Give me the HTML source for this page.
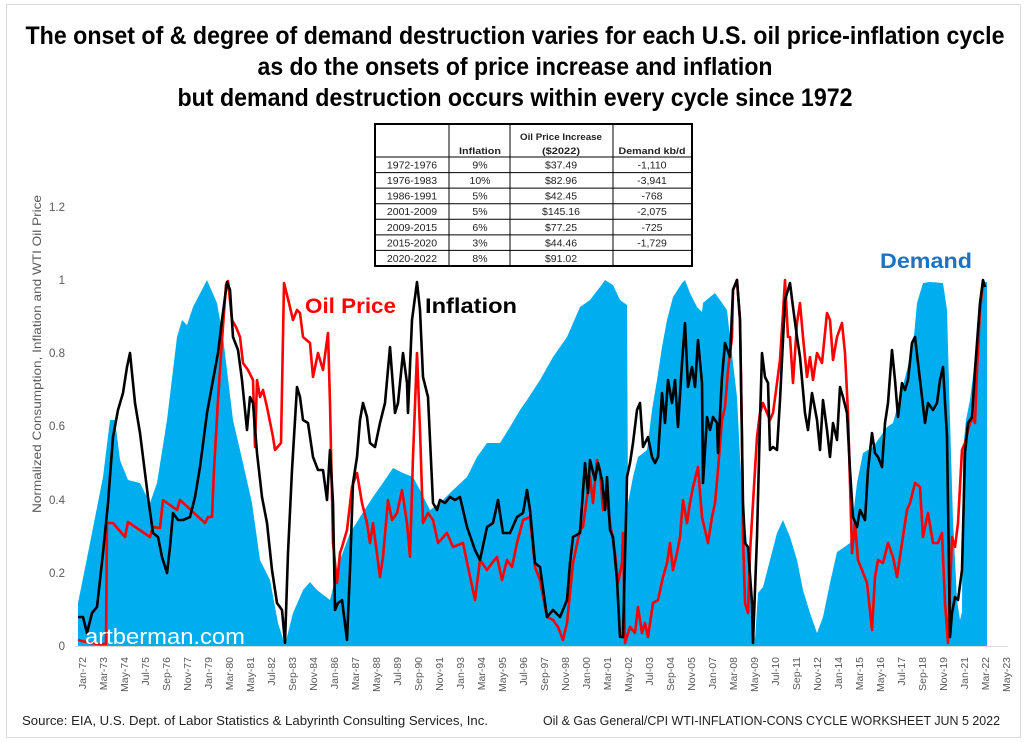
<!DOCTYPE html>
<html>
<head>
<meta charset="utf-8">
<style>
  html,body{margin:0;padding:0;background:#fff;}
  svg{display:block;}
  text{font-family:"Liberation Sans", Arial, sans-serif;}
</style>
</head>
<body>
<svg width="1024" height="742" viewBox="0 0 1024 742" xmlns="http://www.w3.org/2000/svg">
  <rect x="0" y="0" width="1024" height="742" fill="#fff"/>
  <rect x="6.5" y="4.5" width="1014" height="733" fill="none" stroke="#d9d9d9" stroke-width="1"/>

  <!-- Title -->
  <g font-weight="bold" font-size="25" fill="#000" text-anchor="middle">
    <text x="515" y="44" textLength="979" lengthAdjust="spacingAndGlyphs">The onset of &amp; degree of demand destruction varies for each U.S. oil price-inflation cycle</text>
    <text x="515" y="75" textLength="515" lengthAdjust="spacingAndGlyphs">as do the onsets of price increase and inflation</text>
    <text x="515" y="106" textLength="675" lengthAdjust="spacingAndGlyphs">but demand destruction occurs within every cycle since 1972</text>
  </g>

  <!-- Table -->
  <g>
    <rect x="375" y="124" width="317" height="142" fill="#fff" stroke="#000" stroke-width="2"/>
    <g stroke="#000" stroke-width="1">
      <line x1="449" y1="124" x2="449" y2="266"/>
      <line x1="510" y1="124" x2="510" y2="266"/>
      <line x1="613" y1="124" x2="613" y2="266"/>
      <line x1="375" y1="157" x2="692" y2="157"/>
      <line x1="375" y1="172.6" x2="692" y2="172.6"/>
      <line x1="375" y1="188.1" x2="692" y2="188.1"/>
      <line x1="375" y1="203.7" x2="692" y2="203.7"/>
      <line x1="375" y1="219.3" x2="692" y2="219.3"/>
      <line x1="375" y1="234.9" x2="692" y2="234.9"/>
      <line x1="375" y1="250.4" x2="692" y2="250.4"/>
    </g>
    <g font-size="9.5" font-weight="bold" fill="#222" text-anchor="middle">
      <text x="480" y="154" textLength="42" lengthAdjust="spacingAndGlyphs">Inflation</text>
      <text x="561" y="140" textLength="82" lengthAdjust="spacingAndGlyphs">Oil Price Increase</text>
      <text x="561" y="154" textLength="38" lengthAdjust="spacingAndGlyphs">($2022)</text>
      <text x="652" y="154" textLength="67" lengthAdjust="spacingAndGlyphs">Demand kb/d</text>
    </g>
    <g font-size="10.5" fill="#222" text-anchor="middle">
      <text x="412" y="168.5">1972-1976</text><text x="480" y="168.5">9%</text><text x="561" y="168.5">$37.49</text><text x="652" y="168.5">-1,110</text>
      <text x="412" y="184.1">1976-1983</text><text x="480" y="184.1">10%</text><text x="561" y="184.1">$82.96</text><text x="652" y="184.1">-3,941</text>
      <text x="412" y="199.6">1986-1991</text><text x="480" y="199.6">5%</text><text x="561" y="199.6">$42.45</text><text x="652" y="199.6">-768</text>
      <text x="412" y="215.2">2001-2009</text><text x="480" y="215.2">5%</text><text x="561" y="215.2">$145.16</text><text x="652" y="215.2">-2,075</text>
      <text x="412" y="230.8">2009-2015</text><text x="480" y="230.8">6%</text><text x="561" y="230.8">$77.25</text><text x="652" y="230.8">-725</text>
      <text x="412" y="246.4">2015-2020</text><text x="480" y="246.4">3%</text><text x="561" y="246.4">$44.46</text><text x="652" y="246.4">-1,729</text>
      <text x="412" y="261.9">2020-2022</text><text x="480" y="261.9">8%</text><text x="561" y="261.9">$91.02</text>
    </g>
  </g>

  <!-- Y axis title -->
  <text transform="translate(41,354) rotate(-90)" text-anchor="middle" font-size="12" fill="#595959" textLength="318" lengthAdjust="spacingAndGlyphs">Normalized Consumption, Inflation and WTI Oil Price</text>

  <!-- Y tick labels -->
  <g font-size="11.5" fill="#595959" text-anchor="end">
    <text x="65" y="211">1.2</text>
    <text x="65" y="284">1</text>
    <text x="65" y="357">0.8</text>
    <text x="65" y="430">0.6</text>
    <text x="65" y="504">0.4</text>
    <text x="65" y="577">0.2</text>
    <text x="65" y="650">0</text>
  </g>

  <!-- Demand area -->
  <polygon fill="#00AEEF" points="78,646 78,603 90,543 103,477 110,420 115,420 120,460 128,480 140,483 150,503 157,483 167,420 177,337 182,320 187,325 193,307 207,280 217,303 223,337 233,420 243,463 252,503 260,560 270,580 278,623 285,645 293,613 303,590 310,582 317,590 330,600 340,560 350,533 360,517 373,497 387,477 393,468 403,473 413,477 420,490 430,510 440,503 453,490 467,477 477,457 487,443 500,443 510,427 520,410 527,400 540,380 553,357 567,337 580,307 590,300 600,287 605,280 613,285 620,300 627,305 628,503 633,477 638,457 647,450 652,410 657,380 662,347 667,320 673,297 682,283 685,280 690,293 697,307 702,312 703,303 710,297 715,293 720,300 727,310 730,337 733,363 737,397 740,457 743,503 748,553 752,603 755,640 758,593 763,587 770,560 777,533 783,520 790,537 797,560 803,590 810,613 817,633 823,617 830,583 837,552 843,548 850,543 857,483 863,453 873,447 880,437 887,427 893,423 900,397 907,370 913,347 917,303 923,283 930,282 943,283 947,310 950,420 953,520 957,600 960,620 962,612 963,450 966,420 970,400 975,360 980,310 984,282 987,282 987,646"/>

  <!-- X axis line -->
  <line x1="75" y1="646.5" x2="1008" y2="646.5" stroke="#d9d9d9" stroke-width="1"/>

  <!-- Oil price (red) -->
  <polyline fill="none" stroke="#FF0000" stroke-width="2.6" stroke-linejoin="round" points="78,640 90,643 100,644 106,644 107,523 113,523 125,537 128,522 150,537 153,527 160,528 163,500 177,510 180,500 205,523 208,517 212,517 214,470 218,400 222,340 226,285 228,281 232,320 236,327 240,337 243,363 248,370 253,380 255,447 257,380 260,397 263,390 267,407 273,437 275,450 281,443 284,283 289,303 293,320 297,310 300,313 303,337 310,343 313,377 318,353 323,370 328,333 330,403 333,543 337,583 340,553 342,547 347,530 352,487 357,473 362,503 367,523 370,543 373,523 380,577 383,557 388,500 392,520 397,513 402,490 407,523 410,557 413,457 417,353 420,430 423,523 428,513 433,520 438,543 447,533 453,547 463,543 468,567 475,600 480,560 487,570 492,563 497,557 502,580 507,560 512,567 517,543 523,520 530,517 535,567 540,580 547,617 553,620 558,627 563,640 567,623 573,563 580,530 583,527 587,497 590,477 593,503 597,460 600,470 603,510 607,500 610,523 615,553 618,583 622,563 623,533 625,643 630,627 635,633 638,607 642,633 645,623 648,637 653,603 658,600 663,577 667,563 670,543 673,570 677,553 680,537 683,500 687,523 690,503 693,487 698,467 702,517 705,530 708,543 712,517 715,503 718,470 722,420 725,407 728,370 732,337 733,290 737,280 740,320 742,437 743,537 745,603 748,613 750,553 753,503 757,437 760,413 763,403 767,413 770,420 773,413 777,383 780,360 783,313 785,280 788,337 790,337 793,383 797,323 800,303 803,337 807,377 810,357 813,380 817,353 822,363 827,313 830,320 833,360 837,337 842,323 845,353 848,413 852,553 855,523 858,560 862,570 867,583 872,630 875,577 878,560 883,563 888,543 893,557 897,577 902,543 907,510 910,503 915,483 920,487 923,537 928,513 933,543 938,543 942,533 945,603 948,643 952,537 955,547 958,523 962,450 965,443 968,430 972,417 975,423 977,370 980,310 983,283 985,283"/>

  <!-- Inflation (black) -->
  <polyline fill="none" stroke="#000" stroke-width="2.6" stroke-linejoin="round" points="78,617 83,617 87,633 92,613 97,607 103,553 108,503 113,437 118,410 123,393 127,367 130,353 135,403 140,433 143,457 148,497 153,533 158,537 162,557 167,573 170,547 173,513 178,520 183,520 190,517 195,497 200,467 207,413 213,380 218,353 222,320 227,282 230,290 233,337 238,350 242,380 247,430 250,397 253,403 257,453 262,497 267,523 272,570 277,603 282,610 285,643 288,553 292,470 297,387 300,397 303,420 308,423 313,457 318,470 323,470 327,500 330,450 333,503 335,610 338,603 342,600 347,640 350,570 353,483 357,457 360,420 363,403 367,417 370,443 375,447 380,423 385,403 390,347 395,413 398,403 403,353 407,383 408,413 412,320 417,282 420,310 423,377 428,397 433,503 437,510 440,500 445,503 450,497 455,500 460,497 467,527 475,550 480,560 487,527 493,523 498,500 503,533 510,533 517,517 523,513 527,490 530,510 535,563 540,567 547,617 553,610 560,617 567,600 570,563 573,537 580,533 585,463 588,493 590,460 595,480 598,463 602,480 605,510 607,477 610,530 613,537 617,580 620,637 623,637 627,477 630,463 633,443 637,410 640,403 643,447 648,437 652,457 655,463 658,457 662,393 665,423 668,380 672,403 675,380 678,427 682,363 685,323 688,387 692,367 695,387 698,340 702,383 703,483 707,417 710,430 713,417 717,423 718,453 722,377 725,343 730,357 733,290 737,280 740,320 743,503 745,543 748,547 752,603 753,643 757,537 760,420 762,353 765,377 768,383 770,450 773,447 777,450 780,400 785,300 788,290 790,283 793,307 797,337 800,357 805,413 808,430 812,393 817,420 820,450 823,400 827,430 830,457 833,423 837,440 840,387 843,397 847,413 850,470 853,517 857,527 860,510 865,520 868,470 872,433 875,453 878,457 882,467 885,423 888,403 892,350 895,380 898,417 902,383 905,390 908,380 912,343 915,337 918,363 922,397 925,423 928,403 933,410 937,403 940,380 943,367 947,437 950,637 952,613 955,597 958,600 962,570 965,453 968,423 972,417 975,370 980,303 983,280 985,287"/>

  <!-- Series labels -->
  <text x="305" y="313" font-size="21" font-weight="bold" fill="#FF0000" textLength="91" lengthAdjust="spacingAndGlyphs">Oil Price</text>
  <text x="425" y="313" font-size="21" font-weight="bold" fill="#000" textLength="92" lengthAdjust="spacingAndGlyphs">Inflation</text>
  <text x="880" y="268" font-size="21" font-weight="bold" fill="#1F71C1" textLength="92" lengthAdjust="spacingAndGlyphs">Demand</text>

  <!-- Watermark -->
  <text x="85" y="644" font-size="22" fill="#fff" textLength="160" lengthAdjust="spacingAndGlyphs">artberman.com</text>

  <!-- X tick labels -->
  <g font-size="10.5" fill="#595959" text-anchor="end">
    <text transform="translate(86,657) rotate(-90)">Jan-72</text>
    <text transform="translate(107,657) rotate(-90)">Mar-73</text>
    <text transform="translate(128,657) rotate(-90)">May-74</text>
    <text transform="translate(149,657) rotate(-90)">Jul-75</text>
    <text transform="translate(170,657) rotate(-90)">Sep-76</text>
    <text transform="translate(191,657) rotate(-90)">Nov-77</text>
    <text transform="translate(212,657) rotate(-90)">Jan-79</text>
    <text transform="translate(233,657) rotate(-90)">Mar-80</text>
    <text transform="translate(254,657) rotate(-90)">May-81</text>
    <text transform="translate(275,657) rotate(-90)">Jul-82</text>
    <text transform="translate(296,657) rotate(-90)">Sep-83</text>
    <text transform="translate(317,657) rotate(-90)">Nov-84</text>
    <text transform="translate(338,657) rotate(-90)">Jan-86</text>
    <text transform="translate(359,657) rotate(-90)">Mar-87</text>
    <text transform="translate(380,657) rotate(-90)">May-88</text>
    <text transform="translate(401,657) rotate(-90)">Jul-89</text>
    <text transform="translate(422,657) rotate(-90)">Sep-90</text>
    <text transform="translate(443,657) rotate(-90)">Nov-91</text>
    <text transform="translate(464,657) rotate(-90)">Jan-93</text>
    <text transform="translate(485,657) rotate(-90)">Mar-94</text>
    <text transform="translate(506,657) rotate(-90)">May-95</text>
    <text transform="translate(527,657) rotate(-90)">Jul-96</text>
    <text transform="translate(548,657) rotate(-90)">Sep-97</text>
    <text transform="translate(569,657) rotate(-90)">Nov-98</text>
    <text transform="translate(590,657) rotate(-90)">Jan-00</text>
    <text transform="translate(611,657) rotate(-90)">Mar-01</text>
    <text transform="translate(632,657) rotate(-90)">May-02</text>
    <text transform="translate(653,657) rotate(-90)">Jul-03</text>
    <text transform="translate(674,657) rotate(-90)">Sep-04</text>
    <text transform="translate(695,657) rotate(-90)">Nov-05</text>
    <text transform="translate(716,657) rotate(-90)">Jan-07</text>
    <text transform="translate(737,657) rotate(-90)">Mar-08</text>
    <text transform="translate(758,657) rotate(-90)">May-09</text>
    <text transform="translate(779,657) rotate(-90)">Jul-10</text>
    <text transform="translate(800,657) rotate(-90)">Sep-11</text>
    <text transform="translate(821,657) rotate(-90)">Nov-12</text>
    <text transform="translate(842,657) rotate(-90)">Jan-14</text>
    <text transform="translate(863,657) rotate(-90)">Mar-15</text>
    <text transform="translate(884,657) rotate(-90)">May-16</text>
    <text transform="translate(905,657) rotate(-90)">Jul-17</text>
    <text transform="translate(926,657) rotate(-90)">Sep-18</text>
    <text transform="translate(947,657) rotate(-90)">Nov-19</text>
    <text transform="translate(968,657) rotate(-90)">Jan-21</text>
    <text transform="translate(989,657) rotate(-90)">Mar-22</text>
    <text transform="translate(1010,657) rotate(-90)">May-23</text>
  </g>

  <!-- Footer -->
  <g font-size="13" fill="#222">
    <text x="22" y="725" textLength="466" lengthAdjust="spacingAndGlyphs">Source: EIA, U.S. Dept. of Labor Statistics &amp; Labyrinth Consulting Services, Inc.</text>
    <text x="543" y="725" textLength="457" lengthAdjust="spacingAndGlyphs">Oil &amp; Gas General/CPI WTI-INFLATION-CONS CYCLE WORKSHEET JUN 5 2022</text>
  </g>
</svg>
</body>
</html>
